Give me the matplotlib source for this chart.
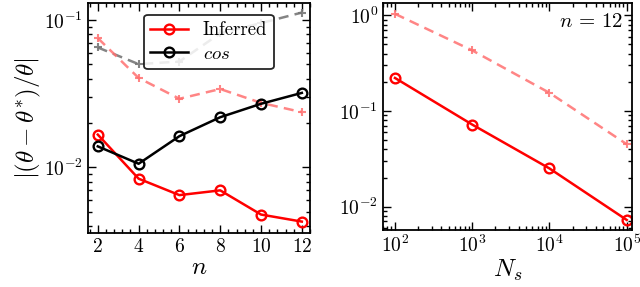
import numpy as np
import matplotlib
matplotlib.use("Agg")
import matplotlib.pyplot as plt
from matplotlib.ticker import AutoMinorLocator

plt.rcParams["font.family"] = "serif"
plt.rcParams["font.serif"] = ["cmr10", "DejaVu Serif"]
plt.rcParams["mathtext.fontset"] = "cm"
plt.rcParams["axes.formatter.use_mathtext"] = True
plt.rcParams["xtick.direction"] = "in"
plt.rcParams["ytick.direction"] = "in"
plt.rcParams["xtick.top"] = True
plt.rcParams["ytick.right"] = True

# left panel: error vs n
n_vals = [2, 4, 6, 8, 10, 12]
inferred = [0.0167, 0.0084, 0.0065, 0.0070, 0.0048, 0.0043]
inferred_dash = [0.0752, 0.0404, 0.0292, 0.0340, 0.0274, 0.0237]
cos_vals = [0.0139, 0.0106, 0.0163, 0.0219, 0.0270, 0.0320]
cos_dash = [0.065, 0.0501, 0.0522, 0.081, 0.095, 0.112]

# right panel: error vs N_s at n = 12
ns_vals = [1e2, 1e3, 1e4, 1e5]
ns_err = [0.222, 0.0722, 0.0251, 0.00726]
ns_err_dash = [1.04, 0.431, 0.155, 0.045]

fig = plt.figure(figsize=(6.4, 2.87), dpi=100)
ax1 = fig.add_axes([88/640, 1 - 233/287, 222/640, 230/287])
ax2 = fig.add_axes([383/640, 1 - 230/287, 249/640, 227/287])

mk = dict(marker="o", mfc="none", ms=7, mew=1.7, lw=1.8)
dash_kw = dict(marker="+", ms=6, mew=1.5, lw=1.8, dashes=(4, 2.5))

ax1.plot(n_vals, cos_dash, "--", color="#777777", alpha=0.9, **dash_kw)
ax1.plot(n_vals, inferred_dash, "--", color="#ff7070", alpha=0.85, **dash_kw)
ax1.plot(n_vals, inferred, "-", color="red", label="Inferred", **mk)
ax1.plot(n_vals, cos_vals, "-", color="black", label=r"$cos$", **mk)
ax1.set_yscale("log")
ax1.set_xlim(1.52, 12.4)
ax1.set_ylim(0.0036, 0.13)
ax1.set_xticks(n_vals)
ax1.xaxis.set_minor_locator(AutoMinorLocator(5))
ax1.set_xlabel(r"$n$", fontsize=18, labelpad=1)
ax1.set_ylabel(r"$|(\theta-\theta^{*})/\theta|$", fontsize=18, labelpad=1)
leg = ax1.legend(loc="upper center", bbox_to_anchor=(0.545, 0.99), fontsize=13.5,
                 edgecolor="black", framealpha=0.85, handlelength=2.0,
                 borderpad=0.35, labelspacing=0.3)
leg.get_frame().set_linewidth(1.3)

ax2.plot(ns_vals, ns_err_dash, "--", color="#ff7070", alpha=0.85, **dash_kw)
ax2.plot(ns_vals, ns_err, "-", color="red", **mk)
ax2.set_xscale("log")
ax2.set_yscale("log")
ax2.set_xlim(70, 1.17e5)
ax2.set_ylim(0.0057, 1.35)
ax2.set_xlabel(r"$N_s$", fontsize=18, labelpad=1)
ax2.text(0.965, 0.955, r"$n\,=\,12$", transform=ax2.transAxes, ha="right", va="top", fontsize=15)

for ax in (ax1, ax2):
    ax.tick_params(which="both", labelsize=14)
    ax.tick_params(which="major", length=5.5, width=1)
    ax.tick_params(which="minor", length=3, width=1)
    for s in ax.spines.values():
        s.set_linewidth(1.3)

fig.savefig("out.png", dpi=100)
